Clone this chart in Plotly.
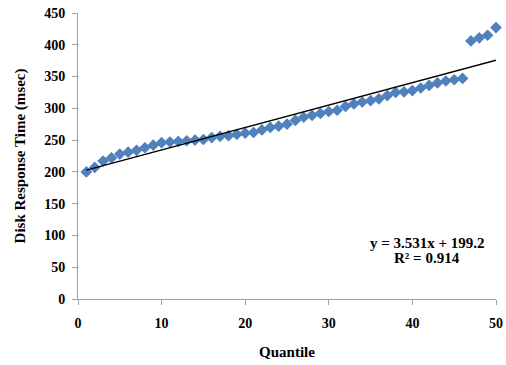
import plotly.graph_objects as go

quantile = list(range(1, 51))
response = [200, 207, 217, 222, 228, 231, 234, 238, 242, 246,
            247, 248, 249, 250, 251, 254, 256, 257, 259, 261,
            262, 266, 270, 272, 275, 281, 286, 289, 292, 295,
            297, 303, 307, 310, 312, 315, 320, 325, 326, 328,
            332, 336, 340, 343, 345, 347, 406, 411, 415, 427]
slope = 3.531
intercept = 199.2
x_ticks = [0, 10, 20, 30, 40, 50]
y_ticks = [0, 50, 100, 150, 200, 250, 300, 350, 400, 450]

trend_x = [quantile[0], quantile[-1]]
trend_y = [slope * v + intercept for v in trend_x]

font_family = "Liberation Serif"

fig = go.Figure()
fig.add_trace(go.Scatter(
    x=quantile, y=response, mode="markers",
    marker=dict(symbol="diamond", size=9, color="#4F81BD"),
    showlegend=False, cliponaxis=False))
fig.add_trace(go.Scatter(
    x=trend_x, y=trend_y, mode="lines",
    line=dict(color="black", width=1.5), showlegend=False))

ann_font = dict(family=font_family, size=15, color="black", weight="bold")
fig.add_annotation(x=0.835, y=0.196, xref="paper", yref="paper", showarrow=False,
                   xanchor="center", yanchor="middle",
                   text="y = 3.531x + 199.2", font=ann_font)
fig.add_annotation(x=0.835, y=0.143, xref="paper", yref="paper", showarrow=False,
                   xanchor="center", yanchor="middle",
                   text="R² = 0.914", font=ann_font)

axis_common = dict(showgrid=False, zeroline=False, showline=True,
                   linecolor="#A0A0A0", linewidth=1, ticks="outside",
                   tickcolor="#A0A0A0", ticklen=5, automargin=False,
                   tickfont=dict(family=font_family, size=14, color="black", weight="bold"))

title_font = dict(family=font_family, size=15, color="black", weight="bold")
fig.update_xaxes(range=[0, 50], tickvals=x_ticks, ticklabelstandoff=6,
                 title=dict(text="Quantile", font=title_font, standoff=16),
                 **axis_common)
fig.update_yaxes(range=[0, 450], tickvals=y_ticks, ticklabelstandoff=4,
                 title=dict(text="Disk Response Time (msec)", font=title_font, standoff=14),
                 **axis_common)
fig.update_layout(
    width=506, height=365,
    margin=dict(l=78, r=10, t=13, b=66),
    plot_bgcolor="white", paper_bgcolor="white",
    font=dict(family=font_family, color="black"))

fig.write_html("out.html", config={"displayModeBar": False},
               post_script="document.body.style.margin='0';")
